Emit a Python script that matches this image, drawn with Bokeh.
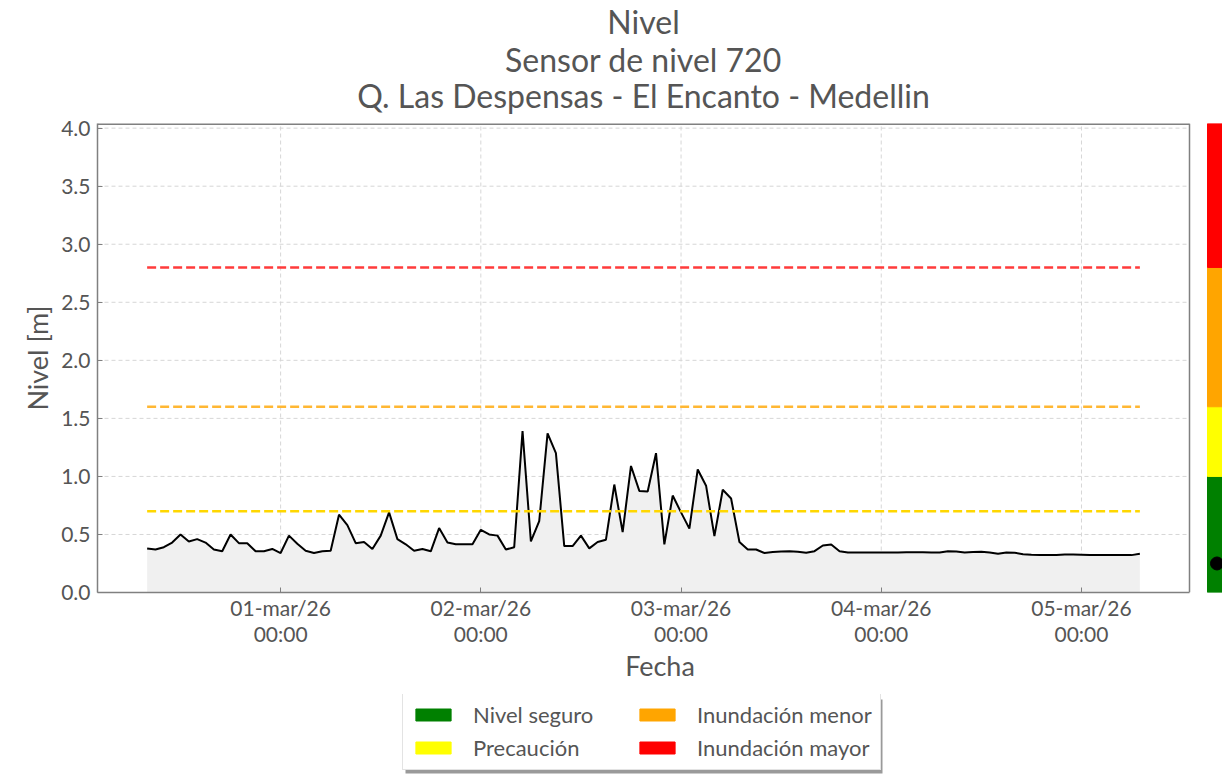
import pandas as pd
from bokeh.plotting import figure
from bokeh.models import (Range1d, FixedTicker, CustomJSTickFormatter, Legend,
                          LegendItem, PrintfTickFormatter, ColumnDataSource)
from bokeh.core.properties import value
from bokeh.layouts import column
from bokeh.embed import file_html
from bokeh.resources import INLINE

# ---------------- data ----------------
inicio = "2026-02-28 08:00"
nivel = [
    0.38, 0.37, 0.39, 0.43, 0.50, 0.44, 0.46, 0.43, 0.37, 0.355,
    0.50, 0.425, 0.425, 0.355, 0.355, 0.375, 0.34, 0.49, 0.42, 0.36,
    0.34, 0.355, 0.36, 0.67, 0.58, 0.425, 0.435, 0.375, 0.49, 0.69,
    0.46, 0.415, 0.36, 0.375, 0.355, 0.555, 0.43, 0.415, 0.415, 0.415,
    0.54, 0.50, 0.49, 0.37, 0.39, 1.39, 0.44, 0.615, 1.37, 1.20,
    0.40, 0.40, 0.49, 0.38, 0.435, 0.455, 0.93, 0.52, 1.09, 0.875,
    0.87, 1.20, 0.415, 0.835, 0.69, 0.55, 1.06, 0.92, 0.485, 0.885,
    0.81, 0.435, 0.37, 0.37, 0.34, 0.348, 0.353, 0.356, 0.351, 0.342,
    0.356, 0.405, 0.414, 0.356, 0.345, 0.345, 0.345, 0.345, 0.345, 0.345,
    0.345, 0.346, 0.346, 0.346, 0.345, 0.345, 0.356, 0.353, 0.345, 0.348,
    0.351, 0.345, 0.333, 0.345, 0.342, 0.33, 0.325, 0.322, 0.322, 0.322,
    0.328, 0.328, 0.325, 0.322, 0.322, 0.322, 0.322, 0.322, 0.322, 0.333,
]
fechas = pd.date_range(inicio, periods=len(nivel), freq="h")

umbrales = [0.7, 1.6, 2.8]
umbral_colores = ["#ffd700", "#ffb733", "#ff3b3b"]

categorias = ["Nivel seguro", "Precaución", "Inundación menor", "Inundación mayor"]
barra_colores = ["#008000", "#ffff00", "#ffa500", "#ff0000"]
barra_limites = [0.0, 1.0, 1.6, 2.8, 4.04]
nivel_actual = 0.25

ticks_fechas = pd.to_datetime(["2026-03-01", "2026-03-02", "2026-03-03",
                               "2026-03-04", "2026-03-05"])
y_ticks = [0.0, 0.5, 1.0, 1.5, 2.0, 2.5, 3.0, 3.5, 4.0]

titulos = ["Nivel", "Sensor de nivel 720", "Q. Las Despensas - El Encanto - Medellin"]

# ---------------- layout constants (pixels) ----------------
FONT = "Lato"
TXT = "#555555"
FRAME_C = "#808080"
GRID_C = "#d6d6d6"
W = 1222
H_TITLE, H_MAIN, H_LEG = 115, 579, 80
LEFT = 97
TOP = 8                 # box top is at H_TITLE + TOP = 123
FRAME_H = 469           # box from 123 to 592
AX_W = 1092             # width of the boxed axes area
FRAME_W = W - LEFT
BAR_GAP, BAR_W = 18, 19
TITLE_Y = [21, 59, 95]   # page y of the centres of the three title lines
TITLE_X = 643


def ms(t):
    return pd.Timestamp(t).value / 1e6


span = ms(fechas[-1]) - ms(fechas[0])
xmin = ms(fechas[0]) - 0.05 * span
xmax = ms(fechas[-1]) + 0.05 * span
per_px = (xmax - xmin) / AX_W
x_end = xmin + FRAME_W * per_px
ymax = barra_limites[-1]

# ---------------- title strip ----------------
pt = figure(width=W, height=H_TITLE, x_range=Range1d(0, FRAME_W), y_range=Range1d(0, H_TITLE),
            output_backend="svg", toolbar_location=None, title_location=None,
            x_axis_location=None, y_axis_location=None,
            min_border_left=LEFT, min_border_right=0, min_border_top=0, min_border_bottom=0)
pt.grid.visible = False
pt.outline_line_color = None
pt.background_fill_color = "white"
pt.border_fill_color = "white"
pt.text(x=[TITLE_X - LEFT] * 3, y=[H_TITLE - ty for ty in TITLE_Y], text=titulos,
        text_font=value(FONT), text_font_size="32px", text_color=TXT,
        text_align="center", text_baseline="middle")

# ---------------- main plot ----------------
p = figure(width=W, height=H_MAIN, x_axis_type="datetime", title_location=None,
           x_range=Range1d(xmin, x_end), y_range=Range1d(0, ymax),
           output_backend="svg", toolbar_location=None,
           min_border_left=LEFT, min_border_right=0,
           min_border_top=TOP, min_border_bottom=H_MAIN - TOP - FRAME_H)
p.background_fill_color = "white"
p.border_fill_color = "white"
p.outline_line_color = None
p.grid.visible = False

# grid lines restricted to the boxed area
p.segment(x0=xmin, x1=xmax, y0=y_ticks[1:], y1=y_ticks[1:],
          line_color=GRID_C, line_dash="4 3", line_width=1)
p.segment(x0=ticks_fechas, x1=ticks_fechas, y0=0, y1=ymax,
          line_color=GRID_C, line_dash="4 3", line_width=1)

# area + line
p.varea(x=fechas, y1=0, y2=nivel, fill_color="#f0f0f0")
p.line(x=fechas, y=nivel, line_color="black", line_width=2)

for u, c in zip(umbrales, umbral_colores):
    p.line(x=[fechas[0], fechas[-1]], y=[u, u], line_color=c,
           line_width=2.5, line_dash="9 4")

# top and right edges of the box
p.segment(x0=xmax, x1=xmax, y0=0, y1=ymax, line_color=FRAME_C, line_width=1.5)
p.segment(x0=xmin, x1=xmax, y0=ymax, y1=ymax, line_color=FRAME_C, line_width=3)

# colour bar
bar_l = xmax + BAR_GAP * per_px
bar_r = bar_l + BAR_W * per_px
src = ColumnDataSource(dict(bottom=barra_limites[:-1], top=barra_limites[1:],
                            color=barra_colores, cat=categorias))
p.quad(left=bar_l, right=bar_r, bottom="bottom", top="top",
       fill_color="color", line_color="color", source=src)
p.scatter(x=[(bar_l + bar_r) / 2], y=[nivel_actual], size=13, color="black")

# axes
p.xaxis.ticker = FixedTicker(ticks=[ms(t) for t in ticks_fechas])
p.xaxis.formatter = CustomJSTickFormatter(code="""
const m = ["ene","feb","mar","abr","may","jun","jul","ago","sep","oct","nov","dic"];
const d = new Date(tick);
const dd = String(d.getUTCDate()).padStart(2, "0");
const yy = String(d.getUTCFullYear()).slice(2);
const hh = String(d.getUTCHours()).padStart(2, "0");
const mi = String(d.getUTCMinutes()).padStart(2, "0");
return dd + "-" + m[d.getUTCMonth()] + "/" + yy + "\\n" + hh + ":" + mi;
""")
p.xaxis.bounds = (xmin, xmax)
p.yaxis.ticker = FixedTicker(ticks=y_ticks)
p.yaxis.formatter = PrintfTickFormatter(format="%.1f")
p.xaxis.axis_label = "Fecha"
p.yaxis.axis_label = "Nivel [m]"

for ax in [p.xaxis[0], p.yaxis[0]]:
    ax.axis_line_color = FRAME_C
    ax.axis_line_width = 1.5
    ax.major_tick_in = 5
    ax.major_tick_out = 0
    ax.major_tick_line_color = FRAME_C
    ax.major_tick_line_width = 1
    ax.minor_tick_line_color = None
    ax.major_label_text_font = FONT
    ax.major_label_text_font_size = "21px"
    ax.major_label_text_color = TXT
    ax.axis_label_text_font = FONT
    ax.axis_label_text_font_size = "27px"
    ax.axis_label_text_font_style = "normal"
    ax.axis_label_text_color = TXT
p.xaxis.major_label_text_line_height = 1.05
p.yaxis.major_label_standoff = 7
p.yaxis.axis_label_standoff = 4
p.xaxis.major_label_standoff = 2
p.xaxis.axis_label_standoff = 0

# ---------------- legend strip ----------------
LEG_X, LEG_Y, LEG_W, LEG_H, SH = 305, 4, 477, 74, 3
pl = figure(width=W, height=H_LEG, x_range=Range1d(0, FRAME_W), y_range=Range1d(0, H_LEG),
            output_backend="svg", toolbar_location=None, title_location=None,
            x_axis_location=None, y_axis_location=None,
            min_border_left=LEFT, min_border_right=0, min_border_top=0, min_border_bottom=0)
pl.grid.visible = False
pl.outline_line_color = None
pl.background_fill_color = "white"
pl.border_fill_color = "white"
# drop shadow of the legend box
pl.quad(left=LEG_X + SH, right=LEG_X + LEG_W + SH, bottom=LEG_Y - SH, top=LEG_Y + LEG_H - SH,
        fill_color="#9a9a9a", line_color=None)
proxy = pl.quad(left=bar_l, right=bar_r, bottom="bottom", top="top",
                fill_color="color", line_color="color", source=src)
items = [LegendItem(label=c, renderers=[proxy], index=i) for i, c in enumerate(categorias)]
legend = Legend(items=items, ncols=2, location=(LEG_X, LEG_Y),
                label_text_font=FONT, label_text_font_size="22px",
                label_text_color=TXT, glyph_width=44, glyph_height=15,
                label_standoff=18, label_width=156, spacing=6, padding=8, margin=0,
                border_line_color="#c8c8c8", border_line_width=1.5,
                background_fill_color="white", background_fill_alpha=1)
pl.add_layout(legend)

layout = column(pt, p, pl)
open("out.html", "w").write(file_html(layout, INLINE))
